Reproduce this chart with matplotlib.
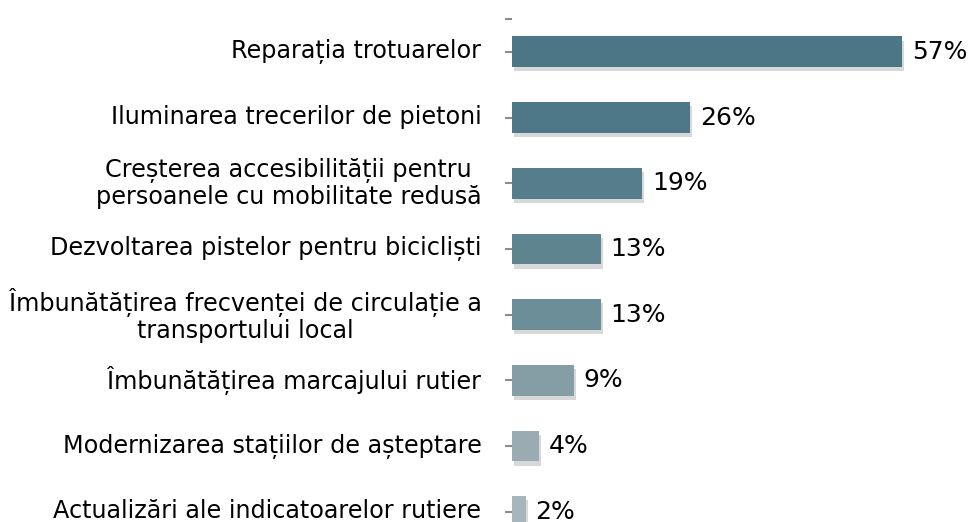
import matplotlib
matplotlib.use("Agg")
import matplotlib.pyplot as plt
import matplotlib.patheffects as pe
from matplotlib.transforms import ScaledTranslation

categories = [
    "Reparația trotuarelor",
    "Iluminarea trecerilor de pietoni",
    "Creșterea accesibilității pentru\npersoanele cu mobilitate redusă",
    "Dezvoltarea pistelor pentru bicicliști",
    "Îmbunătățirea frecvenței de circulație a\ntransportului local",
    "Îmbunătățirea marcajului rutier",
    "Modernizarea stațiilor de așteptare",
    "Actualizări ale indicatoarelor rutiere",
]
values = [57, 26, 19, 13, 13, 9, 4, 2]
value_labels = ["57%", "26%", "19%", "13%", "13%", "9%", "4%", "2%"]
colors = ["#4a7686", "#4e7887", "#557d8b", "#5e848f", "#6b8e98", "#859da5", "#9aabb2", "#a7b6bd"]

plt.rcParams['font.family'] = ['DejaVu Sans']

fig = plt.figure(figsize=(9.74, 5.22), dpi=100)
ax = fig.add_axes([512/974, 0, 462/974, 503/522])

ypos = list(range(len(categories)))
bars = ax.barh(ypos, values, height=0.47, color=colors, zorder=3)
for b in bars:
    b.set_path_effects([pe.SimplePatchShadow(offset=(1.5, -3), shadow_rgbFace='#808080', alpha=0.3), pe.Normal()])

up = ScaledTranslation(0, 3/100, fig.dpi_scale_trans)
for y, v, lab in zip(ypos, values, value_labels):
    t = ax.annotate(lab, (v, y), xytext=(7, 0), textcoords='offset points',
                    va='center', ha='left', fontsize=18, color='black', annotation_clip=False)

ax.set_xlim(0, 67.5)
ax.set_ylim(-0.5 + 503/65.7, -0.5)
ax.set_yticks(ypos)
ax.set_yticklabels(categories, fontsize=17.2, multialignment='center', linespacing=1.1)
ax.set_yticks([-0.5], minor=True)
ax.tick_params(axis='y', which='both', length=5, width=1.5, color='#8c8c8c', pad=17)
for lbl in ax.get_yticklabels():
    lbl.set_transform(lbl.get_transform() + up)
ax.set_xticks([])
for s in ax.spines.values():
    s.set_visible(False)

fig.savefig("out.png", dpi=100)
